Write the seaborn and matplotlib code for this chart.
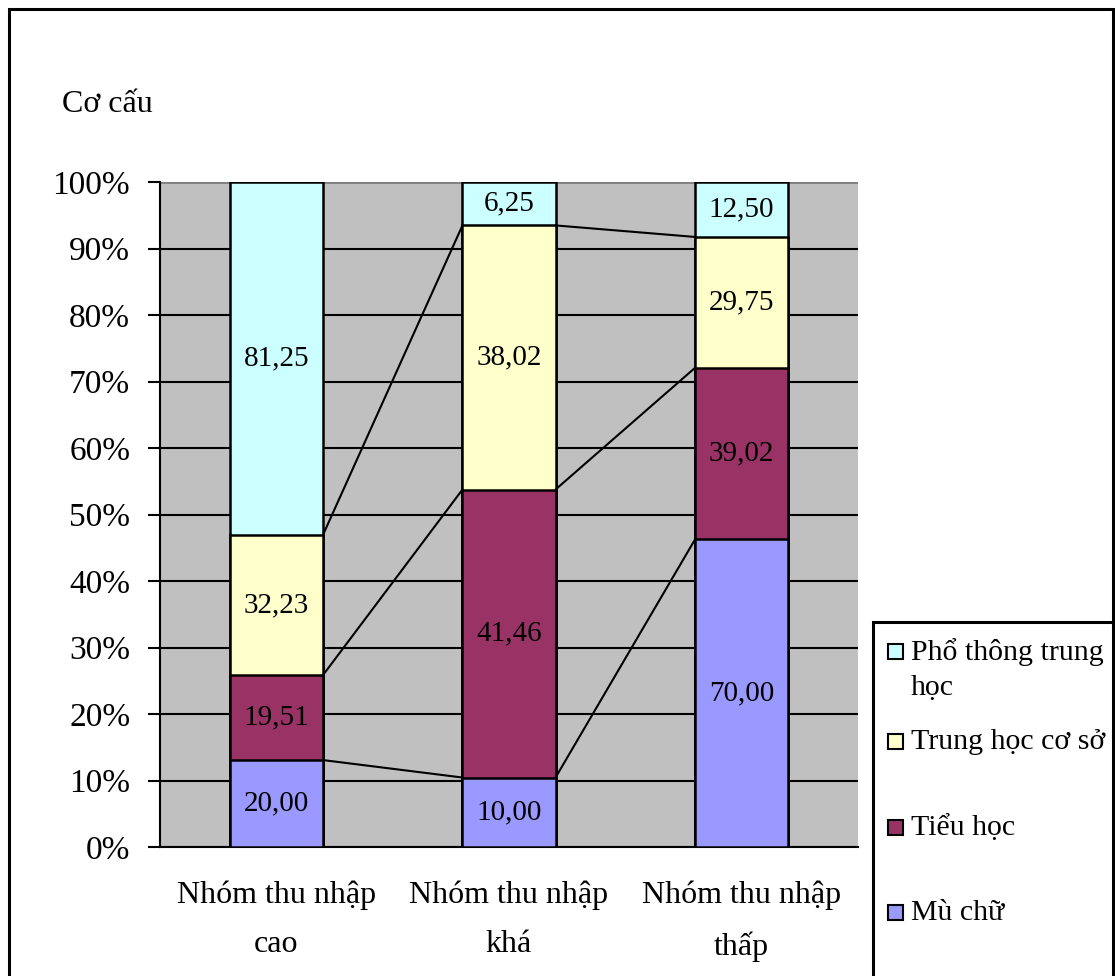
import matplotlib
matplotlib.use("Agg")
import matplotlib.pyplot as plt
from matplotlib.patches import Rectangle
import numpy as np
import pandas as pd
import seaborn as sns

categories = ["Nhóm thu nhập\ncao", "Nhóm thu nhập\nkhá", "Nhóm thu nhập\nthấp"]
series_names = ["Mù chữ", "Tiểu học", "Trung học cơ sở", "Phổ thông trung học"]
mu_chu = [20.00, 10.00, 70.00]
tieu_hoc = [19.51, 41.46, 39.02]
thcs = [32.23, 38.02, 29.75]
ptth = [81.25, 6.25, 12.50]
colors = ["#9999FF", "#993366", "#FFFFCC", "#CCFFFF"]
y_ticks = [0, 10, 20, 30, 40, 50, 60, 70, 80, 90, 100]
y_label = "Cơ cấu"

sns.set_theme(style="white")
plt.rcParams['font.family'] = ['Liberation Serif', 'DejaVu Serif']
plt.rcParams['text.color'] = 'black'
plt.rcParams['xtick.color'] = 'black'
plt.rcParams['ytick.color'] = 'black'
plt.rcParams['axes.labelcolor'] = 'black'

vals = np.array([mu_chu, tieu_hoc, thcs, ptth])
tot = vals.sum(axis=0)
pct = vals / tot * 100
cum = np.cumsum(pct, axis=0)

W, H = 1115, 976
fig = plt.figure(figsize=(W / 100, H / 100), dpi=100)
ax = fig.add_axes([160 / W, 1 - 847 / H, (858 - 160) / W, (847 - 182) / H])
ax.set_facecolor("#C0C0C0")

ax.set_ylim(0, 100)
ax.set_yticks(y_ticks)
ax.set_yticklabels([f"{t}%" for t in y_ticks], fontsize=24, color="black")
ax.yaxis.grid(True, color="black", linewidth=1.5)
ax.set_axisbelow(True)

# stacked bars: draw cumulative from top series down
for k in range(3, -1, -1):
    df = pd.DataFrame({"cat": categories, "val": cum[k]})
    sns.barplot(data=df, x="cat", y="val", color=colors[k], width=0.4,
                edgecolor="black", linewidth=1.8, saturation=1, ax=ax, zorder=3)
ax.set_xlim(-0.5, 2.5)
ax.set_ylim(0, 100)

# series lines
bw = 0.4
for k in range(3):
    for i in range(2):
        ax.plot([i + bw / 2, i + 1 - bw / 2], [cum[k][i], cum[k][i + 1]],
                color="black", linewidth=1.5, zorder=4)

# data labels
for k in range(4):
    for i in range(3):
        mid = cum[k][i] - pct[k][i] / 2
        ax.text(i, mid, f"{vals[k][i]:.2f}".replace(".", ","), ha="center", va="center",
                fontsize=21, color="black", zorder=5)

ax.set_xlabel("")
ax.set_ylabel("")
ax.set_xticks([0, 1, 2])
ax.set_xticklabels(categories, fontsize=23, linespacing=1.93, color="black")
ax.tick_params(axis="x", which="major", length=0, pad=24)
ax.set_xticks([-0.5, 0.5, 1.5, 2.5], minor=True)
ax.tick_params(axis="x", which="minor", length=9, width=1.5, color="black", direction="out")
ax.tick_params(axis="y", length=9, width=1.5, color="black", direction="out", left=True, pad=12.5)
for s in ["top", "right"]:
    ax.spines[s].set_visible(False)
ax.spines["left"].set_color("black")
ax.spines["left"].set_linewidth(1.5)
ax.spines["bottom"].set_color("black")
ax.spines["bottom"].set_linewidth(1.5)
ax.axhline(100, color="#808080", linewidth=2, zorder=2)

fig.text(62 / W, 1 - 105 / H, y_label, fontsize=23, ha="left", va="center", color="black")

# figure border
fig.patches.append(Rectangle((9 / W, -0.02), (1113 - 9) / W, 1 - 9 / H + 0.02,
                             transform=fig.transFigure, fill=False,
                             edgecolor="black", linewidth=2.2))

# legend (manual, matching Excel layout)
fig.patches.append(Rectangle((873 / W, -0.02), 0.3, 1 - 622 / H + 0.02,
                             transform=fig.transFigure, fill=False,
                             edgecolor="black", linewidth=2.2, clip_on=False))
leg_items = [(3, "Phổ thông trung", 652), (2, "Trung học cơ sở", 742),
             (1, "Tiểu học", 828), (0, "Mù chữ", 913)]
for k, lab, yc in leg_items:
    fig.patches.append(Rectangle((888 / W, 1 - (yc + 7) / H), 15 / W, 15 / H,
                                 transform=fig.transFigure, facecolor=colors[k],
                                 edgecolor="black", linewidth=1.5))
    fig.text(911 / W, 1 - yc / H, lab, fontsize=21.5, ha="left", va="center", color="black")
fig.text(911 / W, 1 - 688 / H, "học", fontsize=21.5, ha="left", va="center", color="black")

fig.savefig("out.png", dpi=100)
